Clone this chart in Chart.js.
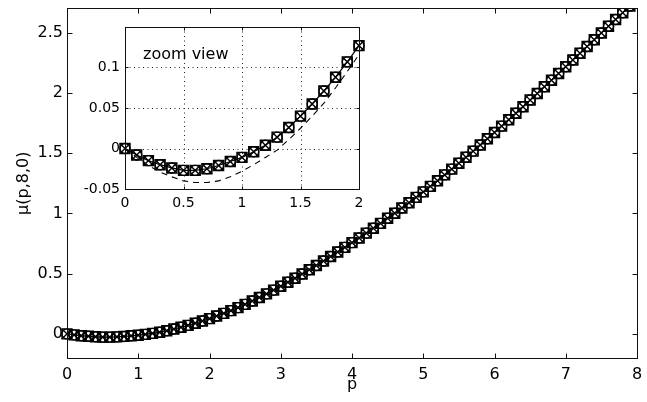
<!DOCTYPE html>
<html>
<head>
<meta charset="utf-8">
<script src="https://cdn.jsdelivr.net/npm/chart.js@4.4.0/dist/chart.umd.min.js"></script>
<style>
html, body { margin: 0; padding: 0; background: #fff; }
#wrap { position: relative; width: 647px; height: 402px; }
#main { position: absolute; left: 0; top: 0; }
#zoom { position: absolute; left: 70px; top: 15px; }
</style>
</head>
<body>
<div id="wrap">
  <canvas id="main" width="647" height="402"></canvas>
  <canvas id="zoom" width="300" height="205"></canvas>
</div>
<script>
// valores (passo 0.1 em p)
const pValues = [
  0.0, 0.1, 0.2, 0.3, 0.4, 0.5, 0.6, 0.7, 0.8, 0.9,
  1.0, 1.1, 1.2, 1.3, 1.4, 1.5, 1.6, 1.7, 1.8, 1.9,
  2.0, 2.1, 2.2, 2.3, 2.4, 2.5, 2.6, 2.7, 2.8, 2.9,
  3.0, 3.1, 3.2, 3.3, 3.4, 3.5, 3.6, 3.7, 3.8, 3.9,
  4.0, 4.1, 4.2, 4.3, 4.4, 4.5, 4.6, 4.7, 4.8, 4.9,
  5.0, 5.1, 5.2, 5.3, 5.4, 5.5, 5.6, 5.7, 5.8, 5.9,
  6.0, 6.1, 6.2, 6.3, 6.4, 6.5, 6.6, 6.7, 6.8, 6.9,
  7.0, 7.1, 7.2, 7.3, 7.4, 7.5, 7.6, 7.7, 7.8, 7.9,
  8.0
];
const muValues = [
  0.000, -0.008, -0.015, -0.020, -0.024, -0.027, -0.027, -0.025, -0.021, -0.016,
  -0.011, -0.004, 0.004, 0.014, 0.026, 0.040, 0.055, 0.071, 0.088, 0.107,
  0.127, 0.148, 0.170, 0.193, 0.218, 0.245, 0.273, 0.302, 0.332, 0.363,
  0.395, 0.428, 0.462, 0.497, 0.532, 0.568, 0.605, 0.642, 0.680, 0.718,
  0.757, 0.796, 0.836, 0.876, 0.917, 0.959, 1.001, 1.044, 1.088, 1.133,
  1.178, 1.224, 1.271, 1.319, 1.367, 1.416, 1.466, 1.516, 1.567, 1.619,
  1.671, 1.724, 1.777, 1.831, 1.885, 1.940, 1.995, 2.050, 2.105, 2.161,
  2.217, 2.273, 2.329, 2.385, 2.441, 2.497, 2.553, 2.609, 2.665, 2.721,
  2.777
];
// curva tracejada do zoom (aproximação)
const muApprox = [
  0.000, -0.011, -0.021, -0.029, -0.035, -0.040, -0.042, -0.042, -0.040, -0.035,
  -0.028, -0.020, -0.011, -0.002, 0.011, 0.025, 0.040, 0.056, 0.075, 0.095,
  0.116
];
const pZoom = pValues.slice(0, 21);
const muZoom = muValues.slice(0, 21);

const xTicksMain = [0, 1, 2, 3, 4, 5, 6, 7, 8];
const yTicksMain = [0, 0.5, 1, 1.5, 2, 2.5];
const xTicksZoom = [0, 0.5, 1, 1.5, 2];
const yTicksZoom = [-0.05, 0, 0.05, 0.1];

const FONT = "'DejaVu Sans', sans-serif";

const pontos = (xs, ys) => xs.map((x, i) => ({ x: x, y: ys[i] }));

// caixa estilo matlab: moldura, ticks para dentro, grelha pontilhada opcional
function caixaPlugin(tickLen, pontilhado, texto) {
  return {
    id: 'caixa',
    beforeDatasetsDraw(chart) {
      const { ctx, chartArea: a, scales } = chart;
      ctx.save();
      ctx.fillStyle = '#fff';
      ctx.fillRect(a.left, a.top, a.right - a.left, a.bottom - a.top);
      if (pontilhado) {
        ctx.strokeStyle = '#222';
        ctx.lineWidth = 1;
        ctx.setLineDash([1, 3.5]);
        scales.x.ticks.forEach(t => {
          const px = Math.round(scales.x.getPixelForValue(t.value)) + 0.5;
          if (px <= a.left + 1 || px >= a.right - 1) return;
          ctx.beginPath(); ctx.moveTo(px, a.top); ctx.lineTo(px, a.bottom); ctx.stroke();
        });
        scales.y.ticks.forEach(t => {
          const py = Math.round(scales.y.getPixelForValue(t.value)) + 0.5;
          if (py <= a.top + 1 || py >= a.bottom - 1) return;
          ctx.beginPath(); ctx.moveTo(a.left, py); ctx.lineTo(a.right, py); ctx.stroke();
        });
      }
      ctx.restore();
    },
    afterDraw(chart) {
      const { ctx, chartArea: a, scales } = chart;
      ctx.save();
      ctx.strokeStyle = '#111';
      ctx.lineWidth = 1;
      ctx.setLineDash([]);
      const L = Math.round(a.left) + 0.5, R = Math.round(a.right) + 0.5;
      const T = Math.round(a.top) + 0.5, B = Math.round(a.bottom) + 0.5;
      ctx.strokeRect(L, T, R - L, B - T);
      ctx.beginPath();
      scales.x.ticks.forEach(t => {
        const px = Math.round(scales.x.getPixelForValue(t.value)) + 0.5;
        ctx.moveTo(px, B); ctx.lineTo(px, B - tickLen);
        ctx.moveTo(px, T); ctx.lineTo(px, T + tickLen);
      });
      scales.y.ticks.forEach(t => {
        const py = Math.round(scales.y.getPixelForValue(t.value)) + 0.5;
        ctx.moveTo(L, py); ctx.lineTo(L + tickLen, py);
        ctx.moveTo(R, py); ctx.lineTo(R - tickLen, py);
      });
      ctx.stroke();
      if (texto) {
        ctx.fillStyle = '#000';
        ctx.font = '16px ' + FONT;
        ctx.textBaseline = 'alphabetic';
        ctx.textAlign = 'left';
        ctx.fillText(texto, a.left + 18, a.top + 32);
      }
      ctx.restore();
    }
  };
}

function marcadores(dados, r, lw) {
  const base = { data: dados, showLine: false, borderColor: '#000', borderWidth: lw,
    backgroundColor: 'rgba(0,0,0,0)', pointBorderColor: '#000', pointBackgroundColor: 'rgba(0,0,0,0)' };
  return [
    { ...base, pointStyle: 'rect', pointRadius: r * 1.414 },
    { ...base, pointStyle: 'circle', pointRadius: r },
    { ...base, pointStyle: 'crossRot', pointRadius: r * 1.4 }
  ];
}

function eixo(ticks, min, max, extra) {
  return {
    type: 'linear', min: min, max: max,
    grid: { display: false, drawTicks: false },
    border: { display: false },
    afterBuildTicks: (scale) => { scale.ticks = ticks.map(v => ({ value: v })); },
    ...extra
  };
}

const dadosMain = pontos(pValues, muValues);

new Chart(document.getElementById('main'), {
  type: 'scatter',
  data: {
    datasets: [
      { data: dadosMain, showLine: true, borderColor: '#000', borderWidth: 1.2, pointRadius: 0, fill: false },
      ...marcadores(dadosMain, 5, 1.4)
    ].map(d => ({ ...d, clip: { left: 10, top: 0, right: 10, bottom: 10 } }))
  },
  options: {
    responsive: false,
    animation: false,
    events: [],
    layout: { padding: { left: 0, top: 8, right: 10, bottom: 0 } },
    plugins: { legend: { display: false }, tooltip: { enabled: false } },
    scales: {
      x: eixo(xTicksMain, 0, 8, {
        afterFit: (s) => { s.height = 44; s.paddingLeft = 0; s.paddingRight = 0; },
        ticks: { color: '#000', font: { family: FONT, size: 16 }, padding: 7, maxRotation: 0, callback: (v) => String(v) },
        title: { display: true, text: 'p', color: '#000', font: { family: FONT, size: 16 }, padding: { top: 0, bottom: 8 } }
      }),
      y: eixo(yTicksMain, -0.2, 2.7, {
        afterFit: (s) => { s.width = 67; s.paddingTop = 0; s.paddingBottom = 0; },
        ticks: { color: '#000', font: { family: FONT, size: 16 }, padding: 4, callback: (v) => String(v) },
        title: { display: true, text: 'μ(p,8,0)', color: '#000', font: { family: FONT, size: 16 }, padding: { top: 14, bottom: 0 } }
      })
    }
  },
  plugins: [caixaPlugin(5, false, null)]
});

const dadosZoom = pontos(pZoom, muZoom);

new Chart(document.getElementById('zoom'), {
  type: 'scatter',
  data: {
    datasets: [
      { data: pontos(pZoom, muApprox), showLine: true, borderColor: '#000', borderWidth: 1.1, borderDash: [6, 5], pointRadius: 0, fill: false },
      { data: dadosZoom, showLine: true, borderColor: '#000', borderWidth: 1.2, pointRadius: 0, fill: false },
      ...marcadores(dadosZoom, 5, 1.4)
    ].map(d => ({ ...d, clip: false }))
  },
  options: {
    responsive: false,
    animation: false,
    events: [],
    layout: { padding: { left: 0, top: 12, right: 11, bottom: 0 } },
    plugins: { legend: { display: false }, tooltip: { enabled: false } },
    scales: {
      x: eixo(xTicksZoom, 0, 2, {
        afterFit: (s) => { s.height = 31; s.paddingLeft = 0; s.paddingRight = 0; },
        ticks: { color: '#000', font: { family: FONT, size: 14 }, padding: 6, maxRotation: 0, callback: (v) => String(v) }
      }),
      y: eixo(yTicksZoom, -0.05, 0.15, {
        afterFit: (s) => { s.width = 55; s.paddingTop = 0; s.paddingBottom = 0; },
        ticks: { color: '#000', font: { family: FONT, size: 14 }, padding: 5, callback: (v) => String(v) }
      })
    }
  },
  plugins: [caixaPlugin(3, true, 'zoom view')]
});
</script>
</body>
</html>
